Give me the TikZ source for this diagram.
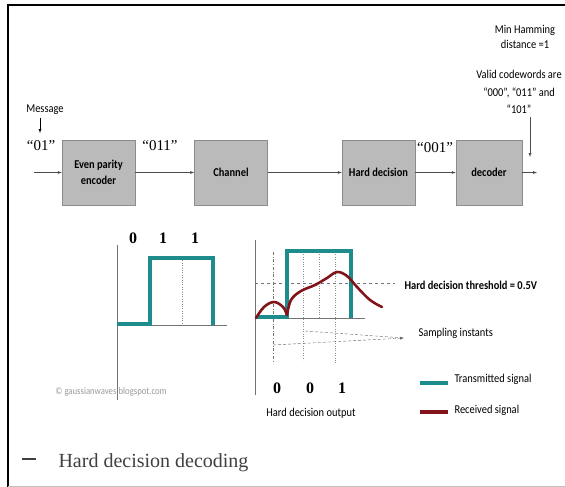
\documentclass[tikz,border=0pt]{standalone}
\usepackage{fontspec}
\setmainfont{Liberation Serif}
\newfontfamily\calfont{Carlito}[FakeStretch=0.87]
\definecolor{txteal}{RGB}{30,140,140}
\definecolor{rxred}{RGB}{130,20,25}
\begin{document}
\begin{tikzpicture}[x=1pt, y=-1pt, >=latex,
  block/.style={draw=black!45, fill=black!27, minimum width=73pt, minimum height=65pt,
    align=center, font=\calfont\bfseries\fontsize{12}{16}\selectfont},
  lbl/.style={font=\calfont\fontsize{12}{15}\selectfont, align=center},
  bitlbl/.style={font=\fontsize{15}{16}\selectfont},
  bitnum/.style={font=\bfseries\fontsize{16}{18}\selectfont},
  axis/.style={draw=black!55, line width=0.6pt},
  tx/.style={txteal, line width=3.5pt},
  rx/.style={rxred, line width=2.6pt, line cap=round}]
  \useasboundingbox (0,0) rectangle (565,487);

  % frame
  \draw[line width=2pt] (8,487) -- (8,5) -- (566,5);
  \draw[black!25, line width=1pt] (8,486) -- (566,486);

  % blocks
  \node[block] (enc) at (98.5,172.5) {Even parity\\encoder};
  \node[block] (chan) at (231,172.5) {Channel};
  \node[block] (hard) at (378.5,172.5) {Hard decision};
  \node[block, minimum width=66pt] (dec) at (489,172.5) {decoder};

  \coordinate (in) at (34,172.5);
  \coordinate (out) at (537,172.5);
  \draw[->, black!70] (in) -- (enc);
  \draw[->, black!70] (enc) -- (chan);
  \draw[->, black!70] (chan) -- (hard);
  \draw[->, black!70] (hard) -- (dec);
  \draw[->, black!70] (dec) -- (out);

  % bit strings
  \node[bitlbl] (m01) at (41,146) {“01”};
  \node[bitlbl] (c011) at (160,146) {“011”};
  \node[bitlbl] (h001) at (435,148) {“001”};

  % notes
  \node[lbl] (msg) at (45,110) {Message};
  \coordinate (msgin) at (40,133);
  \draw[->] (msg.south -| msgin) -- (msgin);
  \node[lbl] (ham) at (525,37) {Min Hamming\\distance =1};
  \node[lbl, font=\calfont\fontsize{12}{17.5}\selectfont] (valid) at (519,92)
    {Valid codewords are\\“000”, “011” and\\“101”};
  \coordinate (validin) at (530,157);
  \draw[->, black!70] (valid.south -| validin) -- (validin);

  % transmitted signal
  \draw[axis] (117,245) -- (117,400);
  \draw[axis] (117,325) -- (227,325);
  \draw[black!45, dotted] (182,258) -- (182,325);
  \draw[tx] (117,324) -- (150,324) -- (150,258) -- (213,258) -- (213,325);
  \node[bitnum] (b1) at (133,238) {0};
  \node[bitnum] (b2) at (163,238) {1};
  \node[bitnum] (b3) at (195,238) {1};

  % received signal
  \draw[axis] (255,240) -- (255,395);
  \draw[axis] (255,318) -- (365,318);
  \draw[black!55, dash dot] (273,252) -- (273,363);
  \draw[black!45, dotted] (303,252) -- (303,360);
  \draw[black!45, dotted] (319,252) -- (319,318);
  \draw[black!45, dotted] (335,252) -- (335,363);
  \draw[black!55, dashed] (255,283) -- (395,283);
  \draw[tx] (255,317) -- (287,317) -- (287,251) -- (351,251) -- (351,318);
  \draw[rx] plot[smooth, tension=0.6] coordinates {(256,318) (264,307) (274,302) (283,307) (287,315)};
  \draw[rx] plot[smooth, tension=0.6] coordinates {(287,315) (291,300) (301,291) (315,285)
    (327,278) (337,272) (347,276) (357,287) (370,300) (382,307)};

  % sampling instants
  \coordinate (samp) at (404,338);
  \draw[->, black!60, densely dashed] (273,345) -- (samp);
  \draw[black!60, densely dashed] (305,331) -- (samp);
  \node[lbl, anchor=west] (samplbl) at (415,333) {Sampling instants};
  \node[lbl, anchor=west, font=\calfont\bfseries\fontsize{12}{12}\selectfont] (thr) at (401,285)
    {Hard decision threshold = 0.5V};

  \node[bitnum] (d1) at (277,388) {0};
  \node[bitnum] (d2) at (310,388) {0};
  \node[bitnum] (d3) at (342,388) {1};
  \node[lbl] (hdo) at (311,413) {Hard decision output};

  % legend
  \draw[tx] (420,383) -- (448,383);
  \draw[rx, line cap=butt, line width=3.5pt] (420,412) -- (448,412);
  \node[lbl, anchor=west] (txl) at (451,379) {Transmitted signal};
  \node[lbl, anchor=west] (rxl) at (451,410) {Received signal};

  \node[lbl, black!40, font=\calfont\fontsize{10}{10}\selectfont] (copy) at (111,392)
    {© gaussianwaves.blogspot.com};

  % title
  \draw[black!75, line width=1.3pt] (22,459) -- (36,459);
  \node[anchor=west, black!75, font=\fontsize{20}{22}\selectfont] (title) at (55,463)
    {Hard decision decoding};
\end{tikzpicture}
\end{document}
